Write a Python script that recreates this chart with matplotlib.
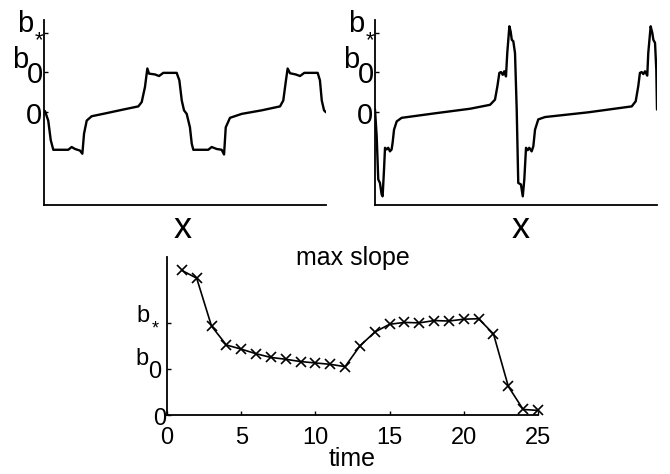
import matplotlib
matplotlib.use("Agg")
import matplotlib.pyplot as plt

plt.rcParams['font.family'] = ['Liberation Sans', 'DejaVu Sans']

# ---------------- data ----------------
# left profile (x in periods, y in units of b0)
left_x = [0.000, 0.007, 0.030, 0.048, 0.066, 0.172, 0.196, 0.220, 0.255, 0.272,
          0.284, 0.303, 0.338, 0.445, 0.562, 0.669, 0.693, 0.716, 0.733, 0.745,
          0.787, 0.816, 0.846, 0.941, 0.960, 0.977, 0.993, 1.012, 1.035, 1.048,
          1.059, 1.165, 1.189, 1.225, 1.260, 1.277, 1.289, 1.319, 1.402, 1.544,
          1.674, 1.697, 1.716, 1.728, 1.745, 1.785, 1.816, 1.846, 1.941, 1.957,
          1.970, 1.986, 2.000]
left_y = [0.00, 0.02, -0.22, -0.72, -0.96, -0.96, -0.89, -0.94, -0.98, -1.06,
          -0.55, -0.22, -0.11, -0.03, 0.06, 0.14, 0.25, 0.63, 1.10, 0.97,
          0.95, 0.91, 0.99, 0.99, 0.80, 0.29, 0.04, -0.05, -0.39, -0.81,
          -0.96, -0.96, -0.89, -0.94, -0.96, -1.08, -0.39, -0.15, -0.05, 0.04,
          0.14, 0.29, 0.80, 1.10, 0.98, 0.95, 0.91, 0.99, 0.99, 0.80,
          0.29, 0.04, -0.01]

# right profile
right_x = [0.000, 0.012, 0.023, 0.035, 0.047, 0.054, 0.064, 0.071, 0.083, 0.094,
           0.106, 0.118, 0.125, 0.135, 0.154, 0.189, 0.437, 0.674, 0.816, 0.851,
           0.868, 0.882, 0.894, 0.906, 0.917, 0.929, 0.938, 0.953, 0.962, 0.970,
           0.981, 0.993, 1.005, 1.016, 1.035, 1.048, 1.059, 1.071, 1.083, 1.094,
           1.111, 1.123, 1.135, 1.158, 1.206, 1.513, 1.821, 1.849, 1.867, 1.879,
           1.891, 1.903, 1.915, 1.931, 1.938, 1.955, 1.967, 1.974, 1.986, 1.995,
           2.000]
right_y = [0.06, -0.62, -1.71, -1.80, -2.09, -2.14, -1.46, -0.91, -0.95, -0.91,
           -1.00, -0.95, -0.78, -0.45, -0.24, -0.15, -0.03, 0.08, 0.18, 0.31,
           0.65, 0.99, 1.01, 0.94, 1.03, 0.90, 1.49, 2.17, 2.04, 1.83,
           1.79, 1.49, 0.06, -1.80, -1.84, -2.14, -1.71, -0.91, -0.97, -0.91,
           -1.00, -0.87, -0.45, -0.19, -0.13, -0.01, 0.14, 0.27, 0.65, 0.99,
           1.01, 0.96, 1.03, 0.92, 1.49, 2.17, 2.00, 1.83, 1.75, 1.07,
           0.06]

# max slope over time
time = list(range(1, 26))
max_slope = [3.14, 2.97, 1.93, 1.52, 1.43, 1.33, 1.25, 1.21, 1.16, 1.13,
             1.10, 1.05, 1.50, 1.80, 1.97, 2.01, 2.00, 2.05, 2.04, 2.08,
             2.09, 1.76, 0.62, 0.12, 0.10]

ytick_vals = [0, 1, 2]
ytick_main = ['0', 'b', 'b']
ytick_sub = ['', '0', '*']
xtick_vals = [0, 5, 10, 15, 20, 25]
xtick_labels = ['0', '5', '10', '15', '20', '25']

# ---------------- figure ----------------
W, H = 670, 474
fig = plt.figure(figsize=(W / 100, H / 100), dpi=100)


def box(l, r, t, b):
    return [l / W, (H - b) / H, (r - l) / W, (b - t) / H]


ax1 = fig.add_axes(box(44, 326, 20, 205))
ax2 = fig.add_axes(box(375, 657, 20, 205))
ax3 = fig.add_axes(box(167, 538, 257, 415))


def style(ax, lw=1.3):
    for s in ['top', 'right']:
        ax.spines[s].set_visible(False)
    for s in ['left', 'bottom']:
        ax.spines[s].set_linewidth(lw)
    ax.tick_params(direction='in', length=3, width=1.0)


def px(v):
    return v * 0.72


def ylabels(ax, specs, fs, sub_fs_star):
    # specs: per tick -> (main_dx, main_dy, sub_dx, sub_dy) in pixels
    for val, main, sub, sp in zip(ytick_vals, ytick_main, ytick_sub, specs):
        mdx, mdy, sdx, sdy = sp
        ax.annotate(main, xy=(0, val), xycoords=('axes fraction', 'data'),
                    xytext=(px(mdx), px(mdy)), textcoords='offset points',
                    ha='right', va='baseline', fontsize=fs, annotation_clip=False)
        if sub:
            ax.annotate(sub, xy=(0, val), xycoords=('axes fraction', 'data'),
                        xytext=(px(sdx), px(sdy)), textcoords='offset points',
                        ha='right', va='baseline',
                        fontsize=(sub_fs_star if sub == '*' else fs),
                        annotation_clip=False)


top_specs = [(-2, -12.5, 0, 0), (-16, 4, -1, -11), (-11, 1, -1, -13)]
for ax, xs, ys, xlx in [(ax1, left_x, left_y, 0.493), (ax2, right_x, right_y, 0.518)]:
    style(ax)
    ax.plot(xs, ys, color='black', lw=1.7, solid_joinstyle='round',
            solid_capstyle='round')
    ax.set_xlim(0, 2.0)
    ax.set_ylim(-2.36, 2.33)
    ax.set_xticks([])
    ax.set_yticks(ytick_vals)
    ax.set_yticklabels([])
    ylabels(ax, top_specs, 21, 16)
    ax.set_xlabel('x', fontsize=26)
    ax.xaxis.set_label_coords(xlx, -0.035)

# bottom panel
style(ax3)
ax3.plot(time, max_slope, color='black', lw=1.2, marker='x', markersize=7,
         markeredgewidth=1.2, clip_on=False)
ax3.set_xlim(0, 25)
ax3.set_ylim(0, 3.43)
ax3.set_xticks(xtick_vals)
ax3.set_xticklabels(xtick_labels, fontsize=17)
ax3.tick_params(axis='x', pad=9)
ax3.set_yticks(ytick_vals)
ax3.set_yticklabels([])
bot_specs = [(-1, -10, 0, 0), (-18, 4, -6, -9), (-17, 1, -8, -11)]
ylabels(ax3, bot_specs, 17, 13)
ax3.set_xlabel('time', fontsize=18)
ax3.xaxis.set_label_coords(0.5, -0.2)
ax3.text(0.5, 1.0 - 8 / 158, 'max slope', transform=ax3.transAxes,
         ha='center', va='baseline', fontsize=18)

fig.savefig('out.png', dpi=100)
